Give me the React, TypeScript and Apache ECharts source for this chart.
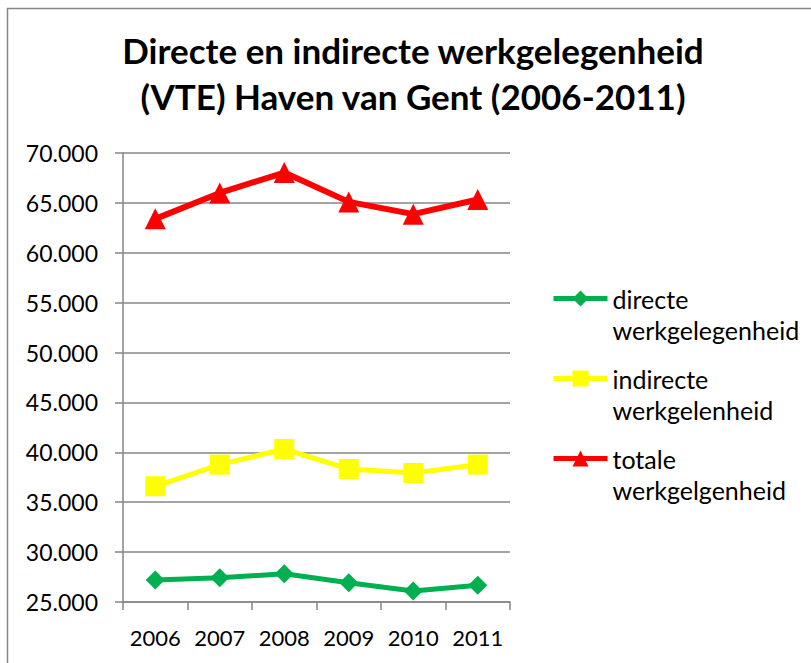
import React, { useEffect, useRef } from "react";
import * as echarts from "echarts";

const years = ["2006", "2007", "2008", "2009", "2010", "2011"];
const directe = [27200, 27430, 27830, 26930, 26100, 26670];
const indirecte = [36600, 38770, 40330, 38330, 37930, 38770];
const totale = [63400, 66000, 68040, 65100, 63870, 65340];
const seriesNames = ["directe werkgelegenheid", "indirecte werkgelenheid", "totale werkgelgenheid"];
const titleText = "Directe en indirecte werkgelegenheid\n(VTE) Haven van Gent (2006-2011)";

const FONT = "Lato";

export default function App() {
  const ref = useRef<HTMLDivElement>(null);
  useEffect(() => {
    const chart = echarts.init(ref.current!, null, { renderer: "svg" });
    const fmt = (v: number) => {
      const s = String(Math.round(v));
      return s.replace(/\B(?=(\d{3})+(?!\d))/g, ".");
    };
    chart.setOption({
      animation: false,
      backgroundColor: "#ffffff",
      textStyle: { fontFamily: FONT },
      title: {
        text: titleText,
        left: 413,
        textAlign: "center",
        top: 27,
        padding: 0,
        textStyle: { fontFamily: FONT, fontWeight: "bold", fontSize: 35, lineHeight: 46, color: "#000" },
      },
      graphic: [
        {
          type: "rect",
          shape: { x: 7.5, y: 8.5, width: 830, height: 700 },
          style: { fill: "none", stroke: "#868686", lineWidth: 1.5 },
          silent: true,
        },
      ],
      legend: {
        orient: "vertical",
        left: 551,
        top: 252,
        padding: 0,
        itemWidth: 54,
        itemHeight: 20,
        itemGap: -13,
        lineStyle: { width: 5 },
        formatter: (name: string) => "\u00a0\n" + name.replace(" ", "\n"),
        textStyle: { fontFamily: FONT, fontSize: 25, color: "#000", lineHeight: 31 },
        data: seriesNames,
      },
      grid: { left: 123, right: 301, top: 153, bottom: 61 },
      xAxis: {
        type: "category",
        data: years,
        boundaryGap: true,
        axisLine: { lineStyle: { color: "#868686", width: 1.5 } },
        axisTick: { show: true, length: 8, lineStyle: { color: "#868686", width: 1.5 } },
        axisLabel: { fontFamily: FONT, fontSize: 22, color: "#000", margin: 24, interval: 0 },
      },
      yAxis: {
        type: "value",
        min: 25000,
        max: 70000,
        interval: 5000,
        axisLine: { show: true, lineStyle: { color: "#868686", width: 1.5 } },
        axisTick: { show: true, length: 8, lineStyle: { color: "#868686", width: 1.5 } },
        splitLine: { lineStyle: { color: "#868686", width: 1.5 } },
        axisLabel: { fontFamily: FONT, fontSize: 23, color: "#000", margin: 25, formatter: fmt },
      },
      series: [
        {
          name: seriesNames[0],
          type: "line",
          data: directe,
          color: "#00B050",
          lineStyle: { width: 5, color: "#00B050" },
          symbol: "diamond",
          symbolSize: 19,
          itemStyle: { color: "#00B050" },
        },
        {
          name: seriesNames[1],
          type: "line",
          data: indirecte,
          color: "#FFFF00",
          lineStyle: { width: 5, color: "#FFFF00" },
          symbol: "rect",
          symbolSize: 20,
          itemStyle: { color: "#FFFF00" },
        },
        {
          name: seriesNames[2],
          type: "line",
          data: totale,
          color: "#FF0000",
          lineStyle: { width: 6, color: "#FF0000" },
          symbol: "triangle",
          symbolSize: 21,
          itemStyle: { color: "#FF0000" },
        },
      ],
    });
    return () => chart.dispose();
  }, []);
  return (
    <div
      ref={ref}
      style={{ position: "fixed", left: 0, top: 0, width: 811, height: 663 }}
    />
  );
}
